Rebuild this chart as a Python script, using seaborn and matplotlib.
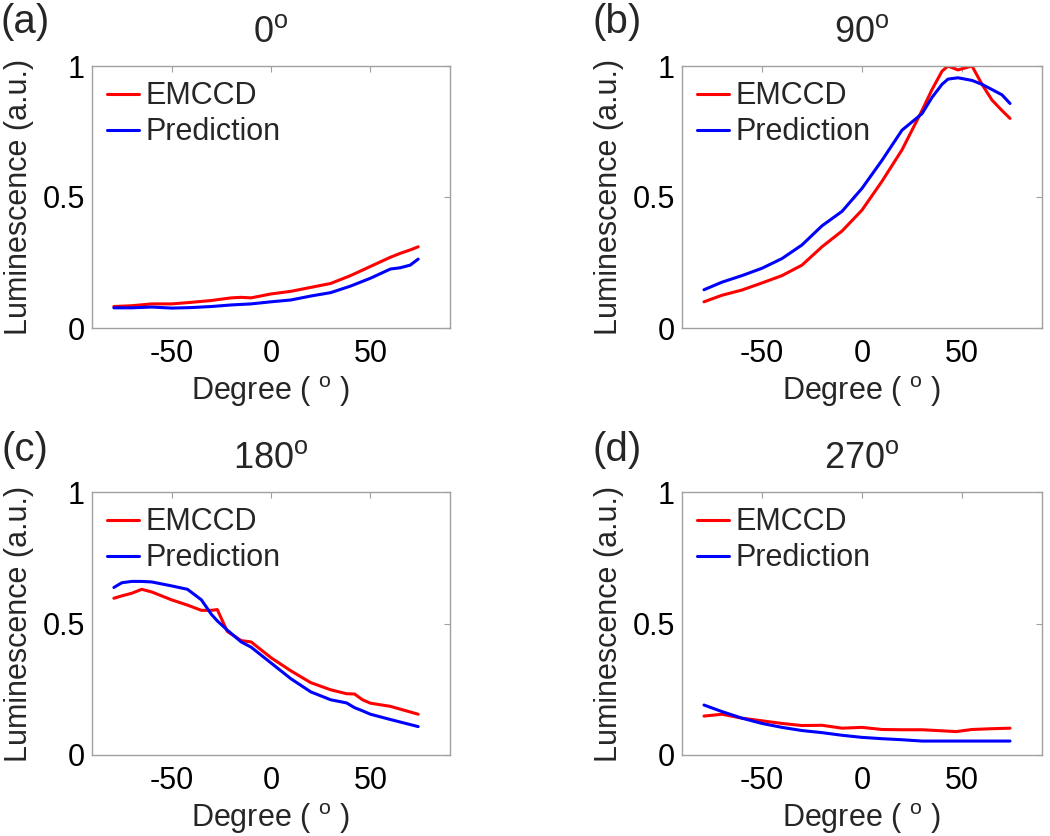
import matplotlib
matplotlib.use("Agg")
import matplotlib.pyplot as plt
import seaborn as sns

# panel titles / labels
panel_tags = ["(a)", "(b)", "(c)", "(d)"]
panel_angles = ["0", "90", "180", "270"]

# (a) 0 deg
x_a = [-79, -70, -60, -50, -40, -30, -20, -15, -10, 0, 10, 20, 30, 40, 50, 60, 65, 70, 74]
emccd_a = [0.082, 0.085, 0.092, 0.092, 0.098, 0.105, 0.115, 0.117, 0.115, 0.13, 0.14, 0.155,
           0.17, 0.2, 0.235, 0.27, 0.285, 0.298, 0.31]
pred_a = [0.077, 0.077, 0.08, 0.076, 0.078, 0.082, 0.088, 0.09, 0.092, 0.1, 0.107, 0.122,
          0.135, 0.16, 0.19, 0.225, 0.23, 0.24, 0.263]

# (b) 90 deg
x_b = [-79, -70, -60, -50, -40, -30, -20, -10, 0, 10, 20, 30, 35, 40, 43, 48, 55, 60, 65, 70, 74]
emccd_b = [0.10, 0.125, 0.145, 0.172, 0.2, 0.24, 0.31, 0.37, 0.45, 0.56, 0.68, 0.83, 0.91,
           0.98, 1.0, 0.985, 1.0, 0.93, 0.87, 0.83, 0.80]
pred_b = [0.146, 0.175, 0.2, 0.228, 0.265, 0.317, 0.39, 0.445, 0.533, 0.64, 0.755, 0.818,
          0.88, 0.93, 0.95, 0.955, 0.945, 0.93, 0.91, 0.89, 0.857]

# (c) 180 deg
x_c = [-79, -75, -70, -65, -60, -50, -42, -35, -30, -27, -22, -15, -10, 0, 10, 20, 30, 38,
       42, 46, 50, 60, 74]
emccd_c = [0.596, 0.605, 0.615, 0.63, 0.62, 0.59, 0.57, 0.55, 0.55, 0.553, 0.47, 0.435, 0.43,
           0.37, 0.32, 0.275, 0.248, 0.233, 0.232, 0.21, 0.197, 0.185, 0.155]
pred_c = [0.637, 0.655, 0.66, 0.66, 0.658, 0.643, 0.63, 0.59, 0.535, 0.51, 0.475, 0.43, 0.41,
          0.35, 0.29, 0.24, 0.21, 0.198, 0.18, 0.168, 0.155, 0.135, 0.108]

# (d) 270 deg
x_d = [-79, -70, -60, -50, -40, -30, -20, -10, 0, 10, 20, 30, 40, 47, 55, 65, 74]
emccd_d = [0.148, 0.155, 0.14, 0.13, 0.12, 0.112, 0.113, 0.102, 0.105, 0.097, 0.096, 0.096,
           0.092, 0.089, 0.097, 0.1, 0.102]
pred_d = [0.19, 0.165, 0.14, 0.12, 0.105, 0.093, 0.085, 0.075, 0.067, 0.062, 0.058, 0.053,
          0.053, 0.053, 0.053, 0.053, 0.053]

panels = [(x_a, emccd_a, pred_a), (x_b, emccd_b, pred_b),
          (x_c, emccd_c, pred_c), (x_d, emccd_d, pred_d)]

sns.set_style("white")
plt.rcParams["font.family"] = ["Liberation Sans", "DejaVu Sans"]
plt.rcParams["mathtext.fontset"] = "custom"
plt.rcParams["mathtext.rm"] = "Liberation Sans"
plt.rcParams["mathtext.it"] = "Liberation Sans:italic"
plt.rcParams["axes.unicode_minus"] = False

fig = plt.figure(figsize=(10.5, 8.36), dpi=100)
W, H = 1050, 836

# axes boxes in pixels: left, top, right, bottom
boxes = [(92, 66, 450, 328), (682, 66, 1042, 328),
         (92, 492, 450, 755), (682, 492, 1042, 755)]
tag_pos = [(25, 22), (617, 22), (25, 450), (617, 450)]

box_col = "#a0a0a0"

for i, (x, emccd, pred) in enumerate(panels):
    l, t, r, b = boxes[i]
    ax = fig.add_axes([l / W, 1 - b / H, (r - l) / W, (b - t) / H])

    sns.lineplot(x=x, y=emccd, color="#ff0000", lw=2.2, label="EMCCD", ax=ax, sort=False)
    sns.lineplot(x=x, y=pred, color="#0000ff", lw=2.2, label="Prediction", ax=ax, sort=False)

    ax.set_xlim(-90, 90)
    ax.set_ylim(0, 1)
    ax.set_xticks([-50, 0, 50])
    ax.set_yticks([0, 0.5, 1])
    ax.set_yticklabels(["0", "0.5", "1"])
    for s in ax.spines.values():
        s.set_color(box_col)
        s.set_linewidth(1)
    ax.tick_params(direction="in", top=True, right=True, length=4, color=box_col,
                   labelsize=22, labelcolor="black")
    ax.tick_params(axis="x", pad=8)
    ax.tick_params(axis="y", pad=5)

    ax.set_xlabel("Degree ( $^{\\mathrm{o}}$ )", fontsize=22, labelpad=4)
    ax.set_ylabel("Luminescence (a.u.)", fontsize=22, labelpad=6)
    ax.set_title(panel_angles[i] + "$^{\\mathrm{o}}$", fontsize=26, pad=17)

    ax.legend(loc="upper left", frameon=False, fontsize=22, handlelength=1.05,
              handletextpad=0.2, labelspacing=0.2, borderaxespad=0.3, borderpad=0.2)

    fig.text(tag_pos[i][0] / W, 1 - tag_pos[i][1] / H, panel_tags[i], fontsize=29,
             ha="center", va="center")

fig.savefig("out.png", dpi=100, facecolor="white")
